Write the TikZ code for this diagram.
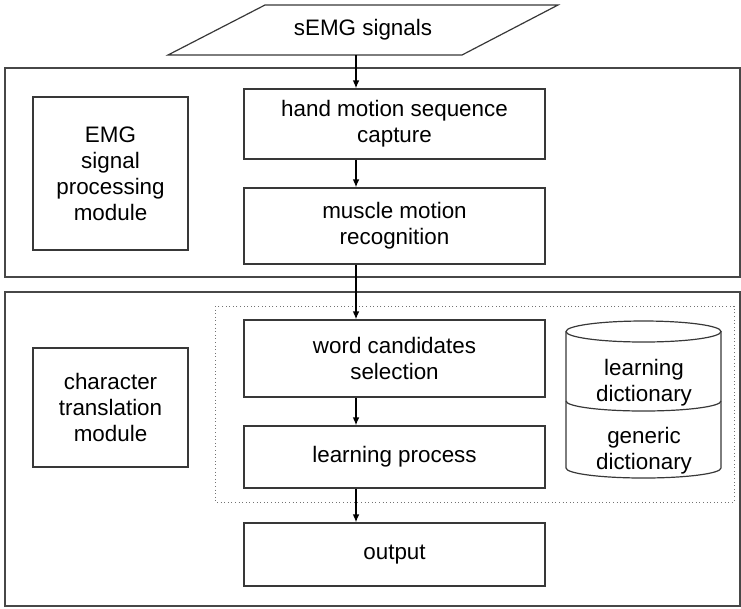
\documentclass[tikz,border=0pt]{standalone}
\usepackage{fontspec}
\setmainfont{Liberation Sans}
\usetikzlibrary{arrows.meta,positioning}

\begin{document}
\begin{tikzpicture}[
    x=0.75pt, y=0.75pt,
    line/.style={draw=black!78, line width=0.9pt},
    txt/.style={font=\fontsize{16.8}{19.5}\selectfont, align=center, inner sep=0pt},
    box/.style={line, txt, rectangle},
    stepbox/.style={box, minimum width=225.75pt},
    modbox/.style={box, minimum width=116.25pt},
    frame/.style={draw=black!72, line width=1pt},
    arrow/.style={-{Latex[length=6pt,width=5pt]}, line width=1.1pt}
]
\useasboundingbox (0,0) rectangle (741,-608);

% Module frames
\draw[frame] (5,-68) rectangle (740,-277);
\draw[frame] (5,-292) rectangle (740,-606);
\draw[dotted, draw=black!55, line width=0.7pt] (215,-306) rectangle (734,-502);

% Input
\draw[line] (168,-55) -- (462,-55) -- (558,-5) -- (265,-5) -- cycle;
\node[txt, minimum height=37.5pt] (signals) at (363,-30) {sEMG signals};

% EMG signal processing
\node[modbox, minimum height=114.75pt] (emgmod) at (110.5,-173.5) {EMG\\signal\\processing\\module};
\node[stepbox, minimum height=52.5pt] (capture) at (394.5,-124) {hand motion sequence\\capture};
\node[stepbox, minimum height=57pt] (recog) at (394.5,-226) {muscle motion\\recognition};

% Character translation
\node[modbox, minimum height=89.25pt] (transmod) at (110.5,-407.5) {character\\translation\\module};
\node[stepbox, minimum height=57.75pt] (select) at (394.5,-358.5) {word candidates\\selection};
\node[stepbox, minimum height=46.5pt] (learn) at (394.5,-457) {learning process};
\node[stepbox, minimum height=47.25pt] (output) at (394.5,-554.5) {output};

% Dictionary
\draw[line] (643.5,-331.5) ellipse [x radius=77.5, y radius=10.5];
\draw[line] (566,-331.5) -- (566,-468) arc[start angle=180, end angle=360, x radius=77.5, y radius=10] -- (721,-331.5);
\draw[line] (566,-401) arc[start angle=180, end angle=360, x radius=77.5, y radius=10];
\node[txt] (learndict) at (644,-383) {learning\\dictionary};
\node[txt] (genericdict) at (644,-451) {generic\\dictionary};

% Flow
\coordinate (spine) at (356,0);
\draw[arrow] (signals.south -| spine) -- (capture.north -| spine);
\draw[arrow] (capture.south -| spine) -- (recog.north -| spine);
\draw[arrow] (recog.south -| spine) -- (select.north -| spine);
\draw[arrow] (select.south -| spine) -- (learn.north -| spine);
\draw[arrow] (learn.south -| spine) -- (output.north -| spine);

\end{tikzpicture}
\end{document}
